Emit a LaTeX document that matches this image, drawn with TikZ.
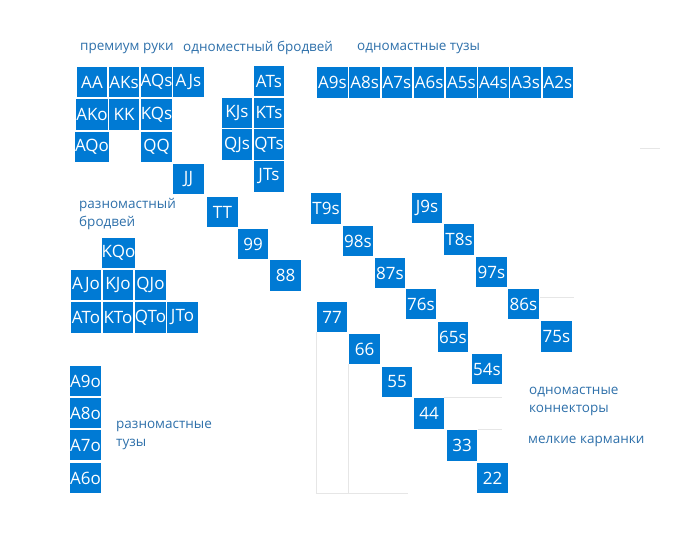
\documentclass[tikz,border=0pt]{standalone}
\usepackage{fontspec}
\setmainfont{Open Sans}
\usepackage{xcolor}
\definecolor{cellblue}{RGB}{0,122,212}
\definecolor{labelblue}{RGB}{46,112,170}
\definecolor{gridgray}{RGB}{230,230,230}

\tikzset{
  cell/.style={draw=none, fill=cellblue, text=white, minimum width=30.5pt, minimum height=30.5pt,
    inner sep=0pt, font=\fontsize{17}{18}\selectfont},
  grouplabel/.style={anchor=west, text=labelblue, align=left, inner sep=0pt,
    font=\fontsize{13.5}{18}\selectfont},
  faint/.style={draw=gridgray, line width=0.8pt}
}

\begin{document}
\begin{tikzpicture}[x=1pt, y=-1pt]
    \useasboundingbox (0,0) rectangle (700,553);

    % faint grid leftovers
    \draw[faint] (316,332) -- (316,493) -- (408,493);
    \draw[faint] (348,364) -- (348,493);
    \draw[faint] (444,397) -- (502,397);
    \draw[faint] (478,429) -- (502,429);
    \draw[faint] (540,297) -- (574,297);
    \draw[faint] (640,148) -- (660,148);

    % group labels
    \node[grouplabel] (lprem) at (80,48) {премиум руки};
    \node[grouplabel] (lsuitbw) at (183,48) {одноместный бродвей};
    \node[grouplabel] (lsuitace) at (357,48) {одномастные тузы};
    \node[grouplabel] (loffbw) at (79,214) {разномастный\\бродвей};
    \node[grouplabel] (lofface) at (116,435) {разномастные\\тузы};
    \node[grouplabel] (lconn) at (529,401) {одномастные\\коннекторы};
    \node[grouplabel] (lsmall) at (528,441) {мелкие карманки};

    % premium hands
    \node[cell] (aa) at (92,82) {AA};
    \node[cell] (aks) at (124,82) {AKs};
    \node[cell] (aqs) at (156.5,82) {AQs};
    \node[cell] (ajs) at (188.5,82) {AJs};
    \node[cell] (ako) at (92,114.5) {AKo};
    \node[cell] (kk) at (124,114.5) {KK};
    \node[cell] (kqs) at (156.5,114.5) {KQs};
    \node[cell] (aqo) at (92,147) {AQo};
    \node[cell] (qq) at (156.5,147) {QQ};
    \node[cell] (jj) at (188.5,179) {JJ};

    % suited broadway
    \node[cell] (ats) at (269,81) {ATs};
    \node[cell] (kjs) at (237,113) {KJs};
    \node[cell] (kts) at (269,113) {KTs};
    \node[cell] (qjs) at (237,144.5) {QJs};
    \node[cell] (qts) at (269,144.5) {QTs};
    \node[cell] (jts) at (269,176.5) {JTs};

    % suited aces
    \foreach \k [count=\i from 0] in {9,8,7,6,5,4,3,2}
        \node[cell] (a\k s) at (332.5+32.2*\i,82.5) {A\k s};

    % offsuit broadway
    \node[cell] (kqo) at (118.5,253) {KQo};
    \node[cell] (ajo) at (86,285) {AJo};
    \node[cell] (kjo) at (118,285) {KJo};
    \node[cell] (qjo) at (150.5,285) {QJo};
    \node[cell] (ato) at (86,317.5) {ATo};
    \node[cell] (kto) at (118,317.5) {KTo};
    \node[cell] (qto) at (150.5,317.5) {QTo};
    \node[cell] (jto) at (182.5,317.5) {JTo};

    % offsuit aces
    \node[cell] (a9o) at (85.5,381) {A9o};
    \node[cell] (a8o) at (85.5,413) {A8o};
    \node[cell] (a7o) at (85.5,445) {A7o};
    \node[cell] (a6o) at (85.5,478) {A6o};

    % middle pairs
    \node[cell] (tt) at (222.5,212) {TT};
    \node[cell] (p99) at (253,244) {99};
    \node[cell] (p88) at (285.5,275.5) {88};

    % suited connectors
    \node[cell] (t9s) at (326,208.5) {T9s};
    \node[cell] (s98) at (358,241) {98s};
    \node[cell] (s87) at (390,273) {87s};
    \node[cell] (s76) at (421,304) {76s};
    \node[cell] (s65) at (453,337) {65s};
    \node[cell] (s54) at (487,369) {54s};
    \node[cell] (j9s) at (427,208) {J9s};
    \node[cell] (t8s) at (459,239.5) {T8s};
    \node[cell] (s97) at (491.5,272) {97s};
    \node[cell] (s86) at (523.5,304) {86s};
    \node[cell] (s75) at (556.5,336.5) {75s};

    % small pairs
    \node[cell] (p77) at (332,317) {77};
    \node[cell] (p66) at (364.5,349) {66};
    \node[cell] (p55) at (397,382) {55};
    \node[cell] (p44) at (429,413.5) {44};
    \node[cell] (p33) at (462,445.5) {33};
    \node[cell] (p22) at (492.5,478) {22};
\end{tikzpicture}
\end{document}
